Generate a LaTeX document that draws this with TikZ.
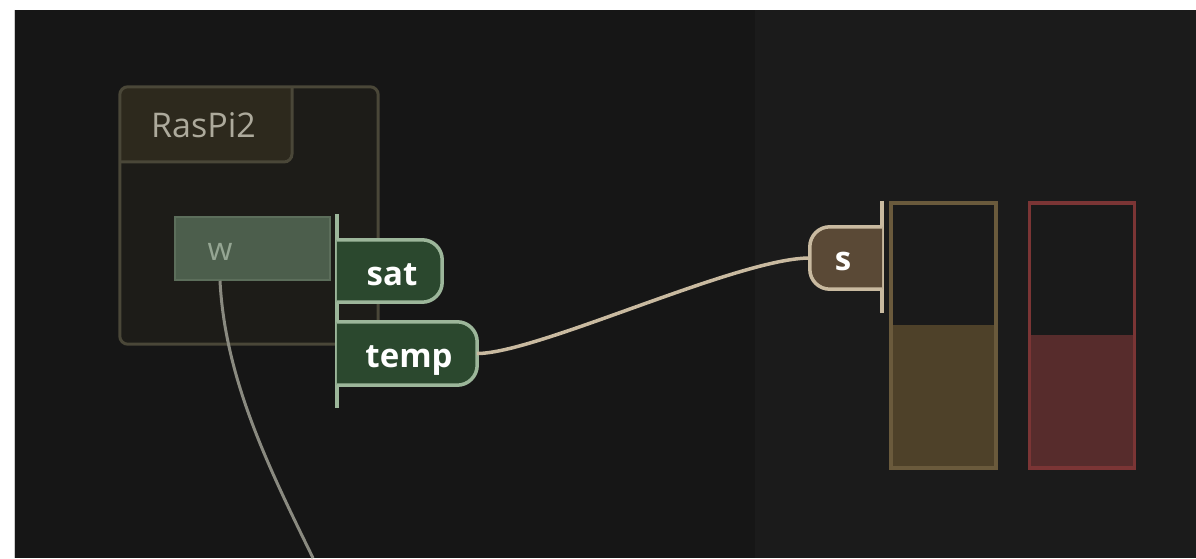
\documentclass[tikz,border=0pt]{standalone}
\usepackage{fontspec}
\setmainfont{Open Sans}
\definecolor{pagewhite}{HTML}{FFFFFF}
\definecolor{bgleft}{HTML}{161616}
\definecolor{bgright}{HTML}{1B1B1B}
\definecolor{frame}{HTML}{4A4738}
\definecolor{framefill}{HTML}{1D1C18}
\definecolor{tabfill}{HTML}{2D291D}
\definecolor{titletext}{HTML}{ADAA9C}
\definecolor{wfill}{HTML}{4C5E4C}
\definecolor{wline}{HTML}{5C6E5B}
\definecolor{wtext}{HTML}{95A693}
\definecolor{portgreen}{HTML}{9CB69A}
\definecolor{portgreenfill}{HTML}{2B482E}
\definecolor{beige}{HTML}{C9BAA0}
\definecolor{portbrownfill}{HTML}{5A4936}
\definecolor{wirew}{HTML}{8A8A80}
\definecolor{meterAline}{HTML}{6A5A3C}
\definecolor{meterAfill}{HTML}{4E4129}
\definecolor{meterBline}{HTML}{7B3535}
\definecolor{meterBfill}{HTML}{572C2C}
\definecolor{meterdark}{HTML}{1A1A1A}
\tikzset{
  porttext/.style={text=white, font=\fontsize{33}{36}\selectfont\bfseries, inner sep=0pt},
  portbox/.style={draw=none, minimum height=62pt, inner sep=0pt},
  greentab/.style={fill=portgreenfill, draw=portgreen, line width=3.5pt, rounded corners=20pt},
  browntab/.style={fill=portbrownfill, draw=beige, line width=3.5pt, rounded corners=20pt},
  meterbox/.style={draw=none, fill=meterdark, minimum width=105pt, minimum height=265pt, inner sep=0pt},
}
\begin{document}
\begin{tikzpicture}[x=1pt, y=-1pt]
  % page and canvas
  \fill[pagewhite] (0,0) rectangle (1196,558);
  \fill[bgleft] (15,10) rectangle (755,558);
  \fill[bgright] (755,10) rectangle (1196,558);
  \draw[gray!40, line width=0.8pt] (14.5,10) -- (14.5,558);
  \useasboundingbox (0,0) rectangle (1196,558);

  % RasPi2 group frame
  \node[draw=none, fill=framefill, rounded corners=8pt, minimum width=258pt, minimum height=257pt, inner sep=0pt]
    (raspi) at (249,215.5) {};
  \begin{scope}
    \clip[rounded corners=8pt] (raspi.north west) rectangle (raspi.south east);
    \fill[tabfill, rounded corners=8pt] (100,70) rectangle (292,162);
  \end{scope}
  \draw[frame, line width=3pt, rounded corners=8pt] (120,162) -- (292,162) -- (292,87);
  \draw[frame, line width=3pt, rounded corners=8pt] (raspi.north west) rectangle (raspi.south east);
  \node[text=titletext, font=\fontsize{34}{38}\selectfont, inner sep=0pt, anchor=base west] (title) at (151,138) {RasPi2};

  % inner block w
  \node[fill=wfill, draw=wline, line width=1.5pt, minimum width=155pt, minimum height=63pt, inner sep=0pt]
    (w) at (252.5,248.5) {};
  \node[text=wtext, font=\fontsize{32}{36}\selectfont, inner sep=0pt, anchor=base] (wlabel) at (220,261) {w};

  % output ports
  \draw[portgreen, line width=3.5pt] (337,214) -- (337,408);
  \node[portbox, minimum width=105pt] (sat) at (389.5,271) {};
  \filldraw[greentab] (sat.north west) -- (sat.north east) -- (sat.south east) -- (sat.south west);
  \node[porttext, anchor=base] (satlabel) at (392,285) {sat};
  \node[portbox, minimum width=140pt, minimum height=63pt] (temp) at (407,353.5) {};
  \filldraw[greentab] (temp.north west) -- (temp.north east) -- (temp.south east) -- (temp.south west);
  \node[porttext, anchor=base] (templabel) at (409,367) {temp};

  % input port
  \draw[beige, line width=3.5pt] (882,201) -- (882,313);
  \node[portbox, minimum width=72pt] (s) at (846,258) {};
  \filldraw[browntab] (s.north east) -- (s.north west) -- (s.south west) -- (s.south east);
  \node[porttext, anchor=base] (slabel) at (843,271) {s};

  % wires
  \draw[beige, line width=3.5pt] (temp.east) .. controls +(60,0) and +(-72,0) .. (s.west);
  \coordinate (wend) at (313,558);
  \draw[wirew, line width=3pt] (w.south -| wlabel) .. controls (225,380) and (270,470) .. (wend);

  % meters
  \node[meterbox] (meterA) at (943.5,335.5) {};
  \fill[meterAfill] (meterA.south west) rectangle ([yshift=143pt]meterA.south east);
  \draw[meterAline, line width=3.5pt] (meterA.north west) rectangle (meterA.south east);
  \node[meterbox] (meterB) at (1082,335.5) {};
  \fill[meterBfill] (meterB.south west) rectangle ([yshift=133pt]meterB.south east);
  \draw[meterBline, line width=3.5pt] (meterB.north west) rectangle (meterB.south east);
\end{tikzpicture}
\end{document}
